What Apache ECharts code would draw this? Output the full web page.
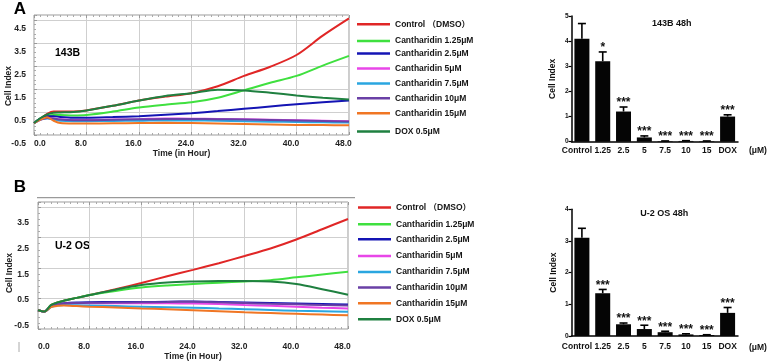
<!DOCTYPE html>
<html><head><meta charset="utf-8">
<script src="https://cdn.jsdelivr.net/npm/echarts@6/dist/echarts.min.js"></script>
<style>html,body{margin:0;padding:0;background:#fff}#c{width:773px;height:363px}</style>
</head><body><div id="c"></div>
<script>
// ---------- data ----------
const hours = [0,1,2,3,4,6,8,12,16,20,24,28,32,36,40,44,48];
const seriesNames = ['Control （DMSO）','Cantharidin 1.25μM','Cantharidin 2.5μM','Cantharidin 5μM','Cantharidin 7.5μM','Cantharidin 10μM','Cantharidin 15μM','DOX 0.5μM'];
const seriesColors = ['#e02626','#3fe03f','#1414b4','#e846e8','#2aa6e0','#6a40a6','#f07624','#1f8040'];
// Panel A, 143B (Cell Index)
const ciA_control = [0.40,0.60,0.80,0.90,0.90,0.90,0.95,1.15,1.38,1.55,1.70,2.00,2.45,2.85,3.36,4.20,4.95];
const ciA_c125    = [0.40,0.60,0.72,0.75,0.75,0.73,0.75,0.90,1.08,1.20,1.30,1.50,1.82,2.15,2.45,2.90,3.32];
const ciA_c25     = [0.40,0.60,0.70,0.70,0.66,0.63,0.63,0.66,0.70,0.76,0.83,0.92,1.02,1.12,1.22,1.30,1.38];
const ciA_c5      = [0.40,0.55,0.62,0.60,0.56,0.53,0.53,0.55,0.57,0.60,0.59,0.58,0.56,0.54,0.52,0.50,0.48];
const ciA_c75     = [0.40,0.55,0.60,0.56,0.50,0.48,0.48,0.49,0.50,0.52,0.51,0.50,0.48,0.46,0.45,0.43,0.42];
const ciA_c10     = [0.40,0.55,0.62,0.60,0.55,0.52,0.52,0.54,0.56,0.58,0.58,0.57,0.55,0.53,0.51,0.49,0.47];
const ciA_c15     = [0.40,0.55,0.65,0.50,0.40,0.38,0.38,0.39,0.40,0.41,0.40,0.38,0.36,0.34,0.32,0.31,0.30];
const ciA_dox     = [0.40,0.62,0.78,0.85,0.86,0.88,0.95,1.15,1.38,1.58,1.70,1.85,1.82,1.72,1.60,1.50,1.42];
// Panel B, U-2 OS (Cell Index)
const ciB_control = [0.10,0.05,0.30,0.40,0.47,0.58,0.69,0.92,1.16,1.42,1.67,1.93,2.21,2.50,2.85,3.25,3.65];
const ciB_c125    = [0.10,0.05,0.30,0.40,0.47,0.58,0.69,0.85,0.98,1.06,1.12,1.17,1.22,1.27,1.38,1.49,1.60];
const ciB_c25     = [0.10,0.05,0.25,0.33,0.37,0.40,0.41,0.42,0.42,0.43,0.44,0.42,0.40,0.38,0.36,0.34,0.32];
const ciB_c5      = [0.10,0.05,0.25,0.32,0.35,0.37,0.37,0.37,0.37,0.37,0.36,0.34,0.30,0.27,0.24,0.20,0.17];
const ciB_c75     = [0.10,0.05,0.22,0.28,0.30,0.29,0.28,0.26,0.24,0.22,0.20,0.17,0.14,0.11,0.08,0.06,0.04];
const ciB_c10     = [0.10,0.05,0.25,0.32,0.36,0.38,0.39,0.40,0.41,0.42,0.43,0.41,0.38,0.35,0.33,0.30,0.28];
const ciB_c15     = [0.10,0.05,0.22,0.27,0.28,0.26,0.24,0.21,0.17,0.14,0.10,0.06,0.02,-0.01,-0.04,-0.07,-0.10];
const ciB_dox     = [0.10,0.05,0.30,0.40,0.47,0.58,0.69,0.90,1.08,1.18,1.22,1.24,1.24,1.22,1.12,0.92,0.70];
// Bar charts at 48 h
const barCategories = ['Control','1.25','2.5','5','7.5','10','15','DOX'];
const barsA_mean = [4.10,3.20,1.20,0.17,0.02,0.03,0.02,1.00];
const barsA_err  = [0.60,0.37,0.18,0.06,0.01,0.01,0.01,0.07];
const barsA_sig  = ['','*','***','***','***','***','***','***'];
const barsB_mean = [3.10,1.35,0.37,0.22,0.12,0.05,0.03,0.73];
const barsB_err  = [0.30,0.12,0.04,0.12,0.03,0.02,0.01,0.17];
const barsB_sig  = ['','***','***','***','***','***','***','***'];
// tick labels
const xTickLabels = ['0.0','8.0','16.0','24.0','32.0','40.0','48.0'];
const yTickLabelsA = ['-0.5','0.5','1.5','2.5','3.5','4.5'];
const yTickLabelsB = ['-0.5','0.5','1.5','2.5','3.5'];

// ---------- chart ----------
const FONT = '"Liberation Sans", Arial, "Noto Sans CJK SC", sans-serif';
const chart = echarts.init(document.getElementById('c'), null, {renderer:'canvas', width:773, height:363});
const seriesA = [ciA_control,ciA_c125,ciA_c25,ciA_c5,ciA_c75,ciA_c10,ciA_c15,ciA_dox];
const seriesB = [ciB_control,ciB_c125,ciB_c25,ciB_c5,ciB_c75,ciB_c10,ciB_c15,ciB_dox];

const lblStyle = {fontFamily:FONT, fontWeight:'bold', fontSize:8.5, color:'#222'};
function lineX(grid, top, margin, nameGap, namePad) {
  const ax = {type:'value', gridIndex:grid, min:0, max:48, interval:8, position: top ? 'top':'bottom',
    axisLine:{show:false, onZero:false},
    axisTick:{show:true, inside:true, length:3, lineStyle:{color:'#999'}},
    minorTick:{show:true, splitNumber:8, length:2, lineStyle:{color:'#aaa'}},
    splitLine:{show:!top, lineStyle:{color:'#cfcfcf', width:1}},
    axisLabel:{show:!top}};
  if (!top) {
    ax.axisLabel = Object.assign({show:true, margin:margin, padding:[0,11,0,0], alignMinLabel:'left',
      formatter:(v,i)=>xTickLabels[i] ?? ''}, lblStyle);
    ax.name = 'Time (in Hour)'; ax.nameLocation='middle'; ax.nameGap=nameGap;
    ax.nameTextStyle = Object.assign({padding:namePad}, lblStyle, {color:'#222'});
  }
  return ax;
}
function barX(grid, margin, nameLH) {
  return {type:'category', gridIndex:grid,
    data:barCategories.map((c,i)=> i===0 ? {value:c, textStyle:{padding:[0,10,0,0]}} : c),
    axisLine:{onZero:false, lineStyle:{color:'#000', width:1.5}}, axisTick:{show:false},
    axisLabel:Object.assign({margin:margin, interval:0}, lblStyle, {color:'#111'}),
    name:'(μM)', nameLocation:'end', nameGap:11,
    nameTextStyle:Object.assign({verticalAlign:'top', lineHeight:nameLH}, lblStyle, {color:'#111'})};
}
function barY(grid, max, nameGap) {
  return {type:'value', gridIndex:grid, min:0, max:max, interval:1,
    axisLine:{show:true, lineStyle:{color:'#000', width:1.5}},
    axisTick:{show:true, length:3, lineStyle:{color:'#000', width:1.2}},
    splitLine:{show:false},
    axisLabel:{margin:3, fontFamily:FONT, fontWeight:'bold', fontSize:6.5, color:'#111'},
    name:'Cell Index', nameLocation:'middle', nameGap:nameGap, nameRotate:90, nameMoveOverlap:false,
    nameTextStyle:{fontFamily:FONT, fontWeight:'bold', fontSize:8.5, color:'#111'}};
}
function errRender(sig) {
  return function(params, api) {
    const i = api.value(0), v = api.value(1), e = api.value(2);
    const p0 = api.coord([i, v]), p1 = api.coord([i, v + e]);
    const ch = [
      {type:'line', shape:{x1:p0[0], y1:p0[1], x2:p1[0], y2:p1[1]}, style:{stroke:'#000', lineWidth:1.6}},
      {type:'line', shape:{x1:p1[0]-4, y1:p1[1], x2:p1[0]+4, y2:p1[1]}, style:{stroke:'#000', lineWidth:1.6}}
    ];
    if (sig[i]) ch.push({type:'text', x:p1[0], y:p1[1]+2,
      style:{text:sig[i], align:'center', verticalAlign:'bottom', fontFamily:FONT, fontWeight:'bold', fontSize:12, fill:'#111'}});
    return {type:'group', children:ch};
  };
}

const series = [];
seriesA.forEach((arr, k) => series.push({type:'line', name:seriesNames[k], xAxisIndex:0, yAxisIndex:0,
  data:hours.map((h,j)=>[h, arr[j]]), showSymbol:false, smooth:0.3, color:seriesColors[k],
  lineStyle:{width:2}, silent:true}));
seriesB.forEach((arr, k) => series.push({type:'line', name:seriesNames[k], xAxisIndex:2, yAxisIndex:1,
  data:hours.map((h,j)=>[h, arr[j]]), showSymbol:false, smooth:0.3, color:seriesColors[k],
  lineStyle:{width:2}, silent:true}));
series.push({type:'bar', xAxisIndex:4, yAxisIndex:3, data:barsA_mean, barWidth:15, itemStyle:{color:'#050505'}, silent:true});
series.push({type:'custom', xAxisIndex:4, yAxisIndex:3, data:barsA_mean.map((v,i)=>[i, v, barsA_err[i]]), renderItem:errRender(barsA_sig), z:5, silent:true});
series.push({type:'bar', xAxisIndex:5, yAxisIndex:4, data:barsB_mean, barWidth:15, itemStyle:{color:'#050505'}, silent:true});
series.push({type:'custom', xAxisIndex:5, yAxisIndex:4, data:barsB_mean.map((v,i)=>[i, v, barsB_err[i]]), renderItem:errRender(barsB_sig), z:5, silent:true});

const legendA_y = [25, 41.7, 54.3, 69.3, 84.3, 99, 114, 132.3];
const legendB_y = [208.3, 225, 240, 256.7, 272.7, 288.3, 304, 320];
const legends = [];
function addLegends(ys, left) {
  ys.forEach((y, k) => legends.push({data:[seriesNames[k]], left:left, top:y-5, padding:0, orient:'horizontal',
    icon:'rect', itemWidth:33, itemHeight:2.5, selectedMode:false,
    textStyle:{fontFamily:FONT, fontWeight:'bold', fontSize:8.5, color:'#151515'}}));
}
addLegends(legendA_y, 357);
addLegends(legendB_y, 358);

const option = {
  animation:false,
  grid:[
    {left:34, top:15, width:315, height:120, show:true, borderColor:'#9a9a9a', borderWidth:1},
    {left:38, top:202, width:310, height:127, show:true, borderColor:'#9a9a9a', borderWidth:1},
    {left:571.5, top:16, width:166.5, height:125.7},
    {left:571.5, top:209.3, width:166.5, height:126.7}
  ],
  xAxis:[
    lineX(0, false, 4, 14, [0,20,0,0]),
    lineX(0, true),
    lineX(1, false, 13, 23, [0,0,0,0]),
    lineX(1, true),
    barX(2, 4.5, 18),
    barX(3, 6, 22.6)
  ],
  yAxis:[
    {type:'value', gridIndex:0, min:-0.12, max:5.1, interval:1,
      axisLine:{show:false, onZero:false}, axisTick:{show:true, inside:true, length:3, lineStyle:{color:'#999'}},
      minorTick:{show:true, splitNumber:5, length:2, lineStyle:{color:'#aaa'}},
      splitLine:{lineStyle:{color:'#cfcfcf'}},
      axisLabel:Object.assign({margin:8, showMaxLabel:false, verticalAlign:'top', lineHeight:17.4, formatter:(v,i)=>yTickLabelsA[i] ?? ''}, lblStyle),
      name:'Cell Index', nameLocation:'middle', nameGap:21, nameRotate:90, nameMoveOverlap:false,
      nameTextStyle:Object.assign({padding:[0,22,0,0]}, lblStyle)},
    {type:'value', gridIndex:1, min:-0.63, max:4.31, interval:1.185,
      axisLine:{show:false, onZero:false}, axisTick:{show:true, inside:true, length:3, lineStyle:{color:'#999'}},
      minorTick:{show:true, splitNumber:5, length:2, lineStyle:{color:'#aaa'}},
      splitLine:{lineStyle:{color:'#cfcfcf'}}, axisLabel:{show:false}},
    {type:'value', gridIndex:1, min:-0.63, max:4.31, interval:1, position:'left',
      axisLine:{show:false, onZero:false}, axisTick:{show:false}, splitLine:{show:false},
      axisLabel:Object.assign({margin:9, showMaxLabel:false, verticalAlign:'bottom', lineHeight:6.6, formatter:(v,i)=>yTickLabelsB[i] ?? ''}, lblStyle),
      name:'Cell Index', nameLocation:'middle', nameGap:24, nameRotate:90, nameMoveOverlap:false,
      nameTextStyle:Object.assign({padding:[0,15,0,0]}, lblStyle)},
    barY(2, 5, 15),
    barY(3, 4, 14)
  ],
  legend:legends,
  series:series,
  graphic:[
    {type:'text', x:20, y:9, style:{text:'A', fontFamily:FONT, fontWeight:'bold', fontSize:17, fill:'#000', align:'center', verticalAlign:'middle'}},
    {type:'text', x:20, y:187, style:{text:'B', fontFamily:FONT, fontWeight:'bold', fontSize:17, fill:'#000', align:'center', verticalAlign:'middle'}},
    {type:'text', x:67.5, y:53, style:{text:'143B', fontFamily:FONT, fontWeight:'bold', fontSize:10.5, fill:'#000', align:'center', verticalAlign:'middle'}},
    {type:'text', x:72.5, y:246, style:{text:'U-2 OS', fontFamily:FONT, fontWeight:'bold', fontSize:10.5, fill:'#000', align:'center', verticalAlign:'middle'}},
    {type:'text', x:671.7, y:23.3, style:{text:'143B 48h', fontFamily:FONT, fontWeight:'bold', fontSize:9, fill:'#111', align:'center', verticalAlign:'middle'}},
    {type:'text', x:664.2, y:214, style:{text:'U-2 OS 48h', fontFamily:FONT, fontWeight:'bold', fontSize:9, fill:'#111', align:'center', verticalAlign:'middle'}},
    {type:'line', shape:{x1:37, y1:197.7, x2:355, y2:197.7}, style:{stroke:'#9a9a9a', lineWidth:1.2}},
    {type:'line', shape:{x1:19, y1:342, x2:19, y2:352}, style:{stroke:'#aaa', lineWidth:1}}
  ]
};
chart.setOption(option);
</script></body></html>
